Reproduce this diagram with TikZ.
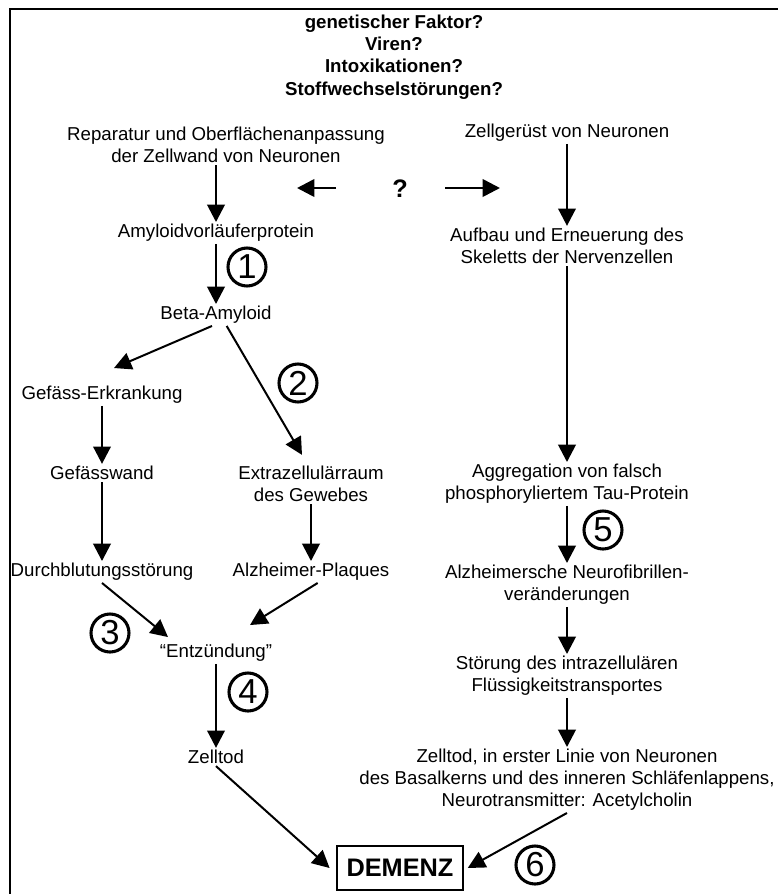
\documentclass[tikz,border=0pt]{standalone}
\usepackage{fontspec}
\setmainfont{Liberation Sans}
\usepackage{tikz}
\usetikzlibrary{arrows.meta,calc}

\tikzset{
	txt/.style={font=\fontsize{14}{16.5}\selectfont,align=center,inner sep=1.5pt},
	kopf/.style={font=\fontsize{14}{16.7}\selectfont\bfseries,align=center,inner sep=1.5pt},
	ziffer/.style={circle,draw,line width=2.3pt,minimum size=28.5pt,inner sep=0pt,font=\fontsize{26}{26}\selectfont},
	pfeil/.style={->,line width=2pt},
	schraeg/.style={->,line width=1.5pt},
}

\begin{document}
\begin{tikzpicture}[x=0.75pt,y=-0.75pt,>={Triangle[length=13pt,width=13pt]}]
		\useasboundingbox (0,0) rectangle (778,894);
%		rahmen
		\draw[line width=1.5pt] (10,894) -- (10,9) -- (778,9);
		
%		ursachen
		\node[kopf] (ursachen) at (394,57) {genetischer Faktor?\\Viren?\\Intoxikationen?\\Stoffwechselstörungen?};
		\node[txt] (rep) at (226,145) {Reparatur und Oberflächenanpassung\\der Zellwand von Neuronen};
		\node[txt] (zell) at (567,133) {Zellgerüst von Neuronen};
		\node[font=\fontsize{19}{20}\selectfont\bfseries] (frage) at (400,189) {?};
		\coordinate (links) at (297,188);
		\coordinate (rechts) at (500,188);
		\draw[pfeil] ([xshift=-48pt]frage.center |- links) -- (links);
		\draw[pfeil] ([xshift=34pt]frage.center |- rechts) -- (rechts);
		
%		linker strang
		\node[txt] (amy) at (216,233) {Amyloidvorläuferprotein};
		\node[txt] (beta) at (216,315) {Beta-Amyloid};
		\node[txt] (gef) at (102,395) {Gefäss-Erkrankung};
		\node[txt] (gwand) at (102,473) {Gefässwand};
		\node[txt] (extra) at (311,484) {Extrazellulärraum\\des Gewebes};
		\node[txt] (durch) at (102,572) {Durchblutungsstörung};
		\node[txt] (plaq) at (311,572) {Alzheimer-Plaques};
		\node[txt] (entz) at (216,653) {“Entzündung”};
		\node[txt] (ztod) at (216,757) {Zelltod};
		
%		rechter strang
		\node[txt] (aufbau) at (567,246) {Aufbau und Erneuerung des\\Skeletts der Nervenzellen};
		\node[txt] (aggr) at (567,484) {Aggregation von falsch\\phosphoryliertem Tau-Protein};
		\node[txt] (alzn) at (567,585) {Alzheimersche Neurofibrillen-\\veränderungen};
		\node[txt] (stoer) at (567,676) {Störung des intrazellulären\\Flüssigkeitstransportes};
		\node[txt] (ztod2) at (567,780) {Zelltod, in erster Linie von Neuronen\\des Basalkerns und des inneren Schläfenlappens,\\Neurotransmitter: Acetylcholin};
		
		\node[draw,line width=1.1pt,minimum width=94.5pt,minimum height=33pt,inner sep=0pt,font=\fontsize{19}{20}\selectfont\bfseries] (demenz) at (400,868) {DEMENZ};
		
%		nummern
		\node[ziffer] (n1) at (247,267) {1};
		\node[ziffer] (n2) at (298,383) {2};
		\node[ziffer] (n3) at (110,633) {3};
		\node[ziffer] (n4) at (248,692) {4};
		\node[ziffer] (n5) at (603,530) {5};
		\node[ziffer] (n6) at (535,865) {6};
		
%		pfeile links
		\draw[pfeil] (rep.south -| amy.north) -- (amy.north);
		\draw[pfeil] (amy.south) -- (beta.north);
		\draw[schraeg] ([xshift=-3pt]beta.south) -- ([shift={(12,-16)}]gef.north);
		\draw[schraeg] ([xshift=8pt]beta.south) -- ([shift={(-9,-9)}]extra.north);
		\draw[pfeil] (gef.south) -- (gwand.north);
		\draw[pfeil] (gwand.south) -- (durch.north);
		\draw[pfeil] (extra.south) -- (plaq.north);
		\draw[schraeg] (durch.south) -- ([shift={(-48,-5)}]entz.north);
		\draw[schraeg] ([xshift=5pt]plaq.south) -- ([shift={(34,-17)}]entz.north);
		\draw[pfeil] (entz.south) -- (ztod.north);
		\draw[schraeg] (ztod.south) -- ([xshift=-5pt]demenz.west);
		
%		pfeile rechts
		\draw[pfeil] (zell.south) -- (aufbau.north);
		\draw[pfeil] (aufbau.south) -- (aggr.north);
		\draw[pfeil] (aggr.south) -- (alzn.north);
		\draw[pfeil] (alzn.south) -- (stoer.north);
		\draw[pfeil] (stoer.south) -- (ztod2.north);
		\draw[schraeg] (ztod2.south) -- ([xshift=3pt]demenz.east);
\end{tikzpicture}
\end{document}
